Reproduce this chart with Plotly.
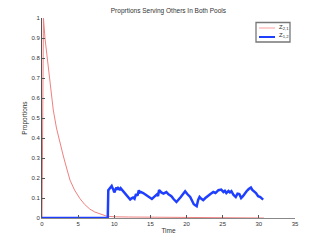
import plotly.graph_objects as go

# Z_{2,1}: decaying proportion
t_red = [0, 0.12, 0.2, 0.41, 0.73, 1.1, 1.56, 2.0, 2.5, 2.95, 3.4, 3.87, 4.5, 5.25, 5.9, 6.6, 7.3, 8.0, 8.9, 9.2, 10, 12, 15, 18, 21, 24, 27, 30.7]
z21 = [0, 1.0, 1.0, 0.90, 0.80, 0.69, 0.54, 0.45, 0.37, 0.31, 0.25, 0.19, 0.14, 0.097, 0.068, 0.045, 0.03, 0.02, 0.01, 0.008, 0.006, 0.005, 0.004, 0.003, 0.002, 0.001, 0.001, 0.0]

# Z_{1,2}: zero then fluctuating
t_blue = [0, 9.1, 9.17, 9.3, 9.4, 9.52, 9.64, 9.75, 9.85, 10.0, 10.1, 10.2, 10.3, 10.45, 10.55, 10.7, 10.8, 10.9, 11.0, 11.25, 11.5, 11.85, 12.2, 12.4, 12.6, 12.8, 13.0, 13.2, 13.4, 13.55, 13.7, 14.0, 14.3, 14.5, 14.85, 15.2, 15.4, 15.6, 15.9, 16.05, 16.2, 16.5, 16.8, 17.0, 17.2, 17.5, 17.9, 18.2, 18.6, 19.2, 19.8, 20.1, 20.5, 21.0, 21.4, 21.6, 21.8, 22.05, 22.3, 22.6, 23.0, 23.3, 23.7, 24.0, 24.2, 24.4, 24.8, 25.1, 25.3, 25.5, 25.8, 26.0, 26.2, 26.5, 26.8, 27.05, 27.3, 27.55, 27.8, 28.05, 28.3, 28.6, 28.9, 29.1, 29.3, 29.6, 29.9, 30.2, 30.4, 30.6]
z12 = [0, 0, 0.139, 0.145, 0.15, 0.155, 0.16, 0.15, 0.145, 0.128, 0.134, 0.145, 0.152, 0.142, 0.15, 0.146, 0.14, 0.148, 0.144, 0.13, 0.122, 0.105, 0.092, 0.098, 0.102, 0.096, 0.12, 0.112, 0.139, 0.128, 0.13, 0.125, 0.118, 0.113, 0.105, 0.095, 0.102, 0.109, 0.118, 0.11, 0.14, 0.128, 0.122, 0.126, 0.13, 0.118, 0.109, 0.095, 0.08, 0.105, 0.134, 0.12, 0.105, 0.069, 0.059, 0.09, 0.105, 0.096, 0.089, 0.1, 0.114, 0.12, 0.13, 0.125, 0.132, 0.139, 0.142, 0.13, 0.136, 0.125, 0.135, 0.128, 0.134, 0.115, 0.105, 0.122, 0.12, 0.1, 0.109, 0.125, 0.134, 0.145, 0.152, 0.14, 0.135, 0.125, 0.109, 0.105, 0.098, 0.092]

x_ticks = [0, 5, 10, 15, 20, 25, 30, 35]
y_ticks = [0, 0.1, 0.2, 0.3, 0.4, 0.5, 0.6, 0.7, 0.8, 0.9, 1]
series_names = ["Z<sub>2,1</sub>", "Z<sub>1,2</sub>"]
series_colors = ["#f08080", "#1f3fff"]
series_widths = [1, 2.5]

FONT = "Liberation Sans, Arial, sans-serif"
axis_font = dict(family=FONT, size=6, color="#333333")
title_font = dict(family=FONT, size=6.5, color="#333333")

fig = go.Figure()
fig.add_trace(go.Scatter(x=t_red, y=z21, mode="lines", name=series_names[0],
                         line=dict(color=series_colors[0], width=series_widths[0])))
fig.add_trace(go.Scatter(x=t_blue, y=z12, mode="lines", name=series_names[1],
                         line=dict(color=series_colors[1], width=series_widths[1])))

# manual compact legend (paper coordinates)
W, H = 327, 245
ml, mr, mt, mb = 42, 32, 18, 27
pw, ph = W - ml - mr, H - mt - mb
def px(x): return (x - ml) / pw
def py(y): return (H - mb - y) / ph

shapes = [dict(type="rect", xref="paper", yref="paper",
               x0=px(256), x1=px(290), y0=py(42), y1=py(22.5),
               line=dict(color="#777777", width=1.3), fillcolor="white")]
annotations = []
for i, (nm, col, wd) in enumerate(zip(series_names, series_colors, series_widths)):
    yy = 28 + i * 9
    shapes.append(dict(type="line", xref="paper", yref="paper",
                       x0=px(259), x1=px(275), y0=py(yy), y1=py(yy),
                       line=dict(color="#ffb0b0" if i == 0 else col, width=1.2 if i == 0 else 2)))
    annotations.append(dict(text=nm, xref="paper", yref="paper", x=px(277), y=py(yy - 1),
                            xanchor="left", yanchor="middle", showarrow=False,
                            font=dict(family=FONT, size=6, color="#333333")))

fig.update_layout(
    width=W, height=H,
    margin=dict(l=ml, r=mr, t=mt, b=mb, autoexpand=False),
    paper_bgcolor="white", plot_bgcolor="white",
    title=dict(text="Proprtions Serving Others In Both Pools", x=0.515, xanchor="center",
               y=0.955, yanchor="middle", font=title_font),
    showlegend=False,
    shapes=shapes,
    annotations=annotations,
    xaxis=dict(range=[0, 35], tickvals=x_ticks, ticktext=[str(v) for v in x_ticks],
               ticks="inside", ticklen=3, tickcolor="#555555", showgrid=False, zeroline=False,
               showline=True, linecolor="#888888", linewidth=1, tickfont=axis_font,
               automargin=False,
               title=dict(text="Time", font=title_font, standoff=2)),
    yaxis=dict(range=[0, 1], tickvals=y_ticks, ticktext=[("%g" % v) for v in y_ticks],
               ticks="inside", ticklen=3, tickcolor="#555555", showgrid=False, zeroline=False,
               showline=True, linecolor="#555555", linewidth=1, tickfont=axis_font,
               automargin=False,
               title=dict(text="Proportions", font=title_font, standoff=3)),
)
fig.write_html("out.html", config={"displayModeBar": False},
               post_script="document.body.style.margin='0';document.body.style.padding='0';")
